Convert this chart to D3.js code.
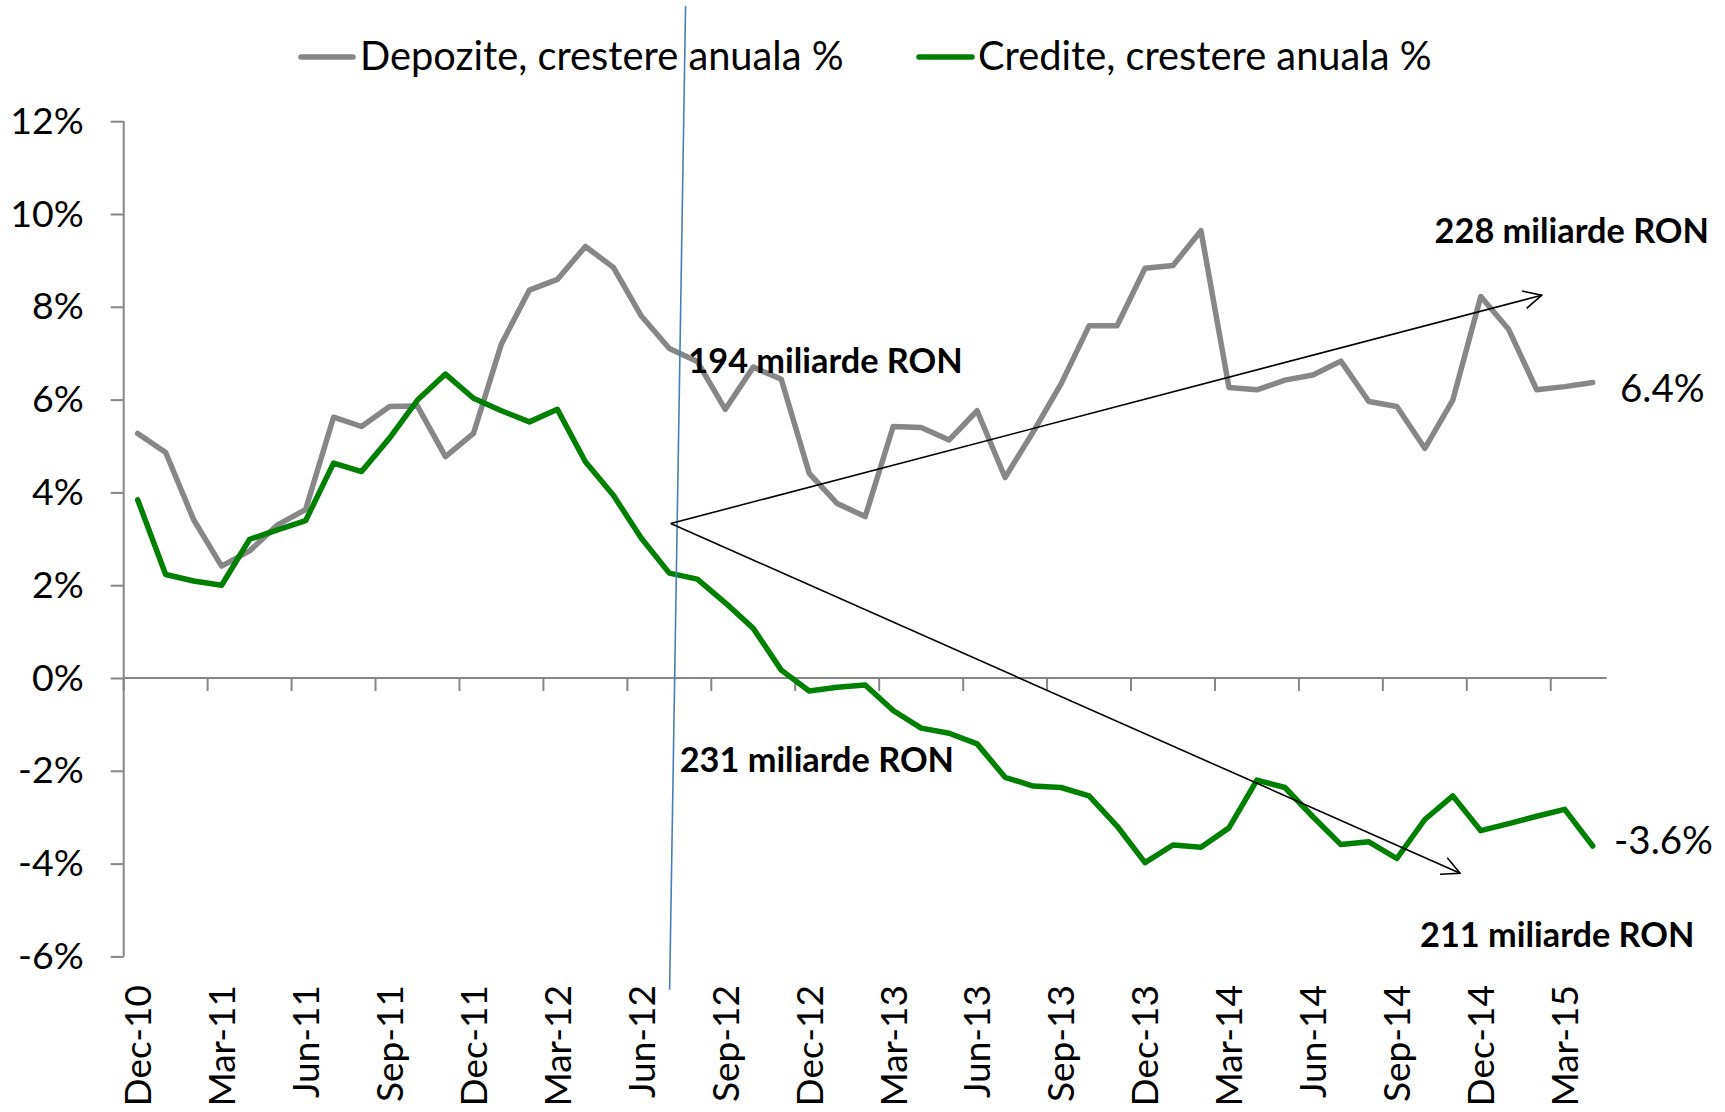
<!DOCTYPE html>
<html>
<head>
<meta charset="utf-8">
<script src="https://cdn.jsdelivr.net/npm/d3@7"></script>
<style>
  html, body { margin: 0; padding: 0; background: #fff; }
  svg { display: block; font-family: Lato, "Open Sans", sans-serif; }
</style>
</head>
<body>
<svg id="chart" width="1725" height="1112"></svg>
<script>
// ---- data ----
const months = [
  "Dec-10","Jan-11","Feb-11","Mar-11","Apr-11","May-11","Jun-11","Jul-11","Aug-11","Sep-11","Oct-11","Nov-11",
  "Dec-11","Jan-12","Feb-12","Mar-12","Apr-12","May-12","Jun-12","Jul-12","Aug-12","Sep-12","Oct-12","Nov-12",
  "Dec-12","Jan-13","Feb-13","Mar-13","Apr-13","May-13","Jun-13","Jul-13","Aug-13","Sep-13","Oct-13","Nov-13",
  "Dec-13","Jan-14","Feb-14","Mar-14","Apr-14","May-14","Jun-14","Jul-14","Aug-14","Sep-14","Oct-14","Nov-14",
  "Dec-14","Jan-15","Feb-15","Mar-15","Apr-15"
];
const tickLabels = ["Dec-10","Mar-11","Jun-11","Sep-11","Dec-11","Mar-12","Jun-12","Sep-12","Dec-12",
  "Mar-13","Jun-13","Sep-13","Dec-13","Mar-14","Jun-14","Sep-14","Dec-14","Mar-15"];
const depozite = [5.27,4.86,3.41,2.41,2.74,3.30,3.63,5.62,5.42,5.85,5.86,4.77,
  5.27,7.20,8.36,8.59,9.30,8.85,7.80,7.10,6.82,5.79,6.70,6.44,
  4.41,3.76,3.48,5.42,5.40,5.13,5.76,4.32,5.30,6.34,7.59,7.59,
  8.83,8.89,9.64,6.26,6.21,6.42,6.53,6.83,5.96,5.85,4.95,5.99,
  8.22,7.51,6.21,6.28,6.37];
const credite = [3.84,2.23,2.09,2.00,2.99,3.19,3.39,4.63,4.45,5.17,5.99,6.55,
  6.03,5.76,5.52,5.79,4.66,3.94,3.01,2.26,2.13,1.62,1.07,0.17,
  -0.28,-0.20,-0.15,-0.70,-1.08,-1.19,-1.42,-2.14,-2.33,-2.36,-2.54,-3.19,
  -3.98,-3.60,-3.65,-3.23,-2.20,-2.36,-2.99,-3.59,-3.53,-3.89,-3.05,-2.54,
  -3.29,-3.14,-2.98,-2.83,-3.62];
const yTicks = [-6,-4,-2,0,2,4,6,8,10,12];
const seriesNames = ["Depozite, crestere anuala %", "Credite, crestere anuala %"];
const endLabels = ["6.4%", "-3.6%"];
// annotation anchors, in data space (month index, %)
const arrowFrom = [19.05, 3.33];
const arrowUpTo = [50.18, 8.25];
const arrowDownTo = [47.26, -4.21];
const blueLine = [[19.58, 14.48], [19.01, -6.72]];
const notes = [
  {text: "194 miliarde RON", at: [19.68, 6.57]},
  {text: "231 miliarde RON", at: [19.37, -2.03]},
  {text: "228 miliarde RON", at: [46.35, 9.37]},
  {text: "211 miliarde RON", at: [45.83, -5.80]}
];

// ---- layout ----
const svg = d3.select("#chart");
const L = 123.7, R = 1606.7, T = 121.2, B = 956.4;
const x = d3.scaleBand().domain(months).range([L, R]).padding(0);
const bw = x.bandwidth();
const xc = m => x(m) + bw / 2;
const xi = i => L + (i + 0.5) * bw;
const y = d3.scaleLinear().domain([-6, 12]).range([B, T]);

const axisColor = "#868686";
const grayC = "#878787", greenC = "#008000";

// y axis
const yAxis = svg.append("g").attr("transform", `translate(${L},0)`)
  .call(d3.axisLeft(y).tickValues(yTicks).tickSize(13).tickPadding(27)
    .tickFormat(d => d + "%"));
yAxis.select(".domain").attr("stroke", axisColor).attr("stroke-width", 2)
  .attr("d", `M0,${T}V${B}`);
yAxis.selectAll(".tick line").attr("stroke", axisColor).attr("stroke-width", 2);
yAxis.selectAll(".tick text").attr("font-family", "Lato").attr("font-size", 37.5).attr("fill", "#000");

// x axis at 0
const boundaries = d3.range(0, months.length, 3).map(i => x(months[i]));
const xg = svg.append("g");
xg.append("line").attr("x1", L).attr("x2", R).attr("y1", y(0)).attr("y2", y(0))
  .attr("stroke", axisColor).attr("stroke-width", 2);
xg.selectAll("line.tk").data(boundaries).join("line").attr("class", "tk")
  .attr("x1", d => d).attr("x2", d => d).attr("y1", y(0)).attr("y2", y(0) + 13)
  .attr("stroke", axisColor).attr("stroke-width", 2);
xg.selectAll("text").data(tickLabels).join("text")
  .attr("transform", d => `translate(${xc(d)},985) rotate(-90)`)
  .attr("text-anchor", "end").attr("dy", "0.36em")
  .attr("font-size", 37).attr("fill", "#000").text(d => d);

// lines
const line = d3.line().x((d, i) => xc(months[i])).y(d => y(d));
svg.append("path").datum(depozite).attr("d", line).attr("fill", "none")
  .attr("stroke", grayC).attr("stroke-width", 5.5).attr("stroke-linejoin", "round").attr("stroke-linecap", "round");
svg.append("path").datum(credite).attr("d", line).attr("fill", "none")
  .attr("stroke", greenC).attr("stroke-width", 5.5).attr("stroke-linejoin", "round").attr("stroke-linecap", "round");

// blue vertical line
svg.append("line")
  .attr("x1", xi(blueLine[0][0])).attr("y1", y(blueLine[0][1]))
  .attr("x2", xi(blueLine[1][0])).attr("y2", y(blueLine[1][1]))
  .attr("stroke", "#4A7EBB").attr("stroke-width", 1.6);

// arrows
svg.append("defs").append("marker").attr("id", "arr")
  .attr("viewBox", "0 0 20 20").attr("refX", 19).attr("refY", 10)
  .attr("markerWidth", 20).attr("markerHeight", 20).attr("markerUnits", "userSpaceOnUse")
  .attr("orient", "auto")
  .append("path").attr("d", "M1,1 L19,10 L1,19").attr("fill", "none")
  .attr("stroke", "#000").attr("stroke-width", 1.6);
[arrowUpTo, arrowDownTo].forEach(t => {
  svg.append("line")
    .attr("x1", xi(arrowFrom[0])).attr("y1", y(arrowFrom[1]))
    .attr("x2", xi(t[0])).attr("y2", y(t[1]))
    .attr("stroke", "#000").attr("stroke-width", 1.6).attr("marker-end", "url(#arr)");
});

// notes
svg.selectAll("text.note").data(notes).join("text").attr("class", "note")
  .attr("x", d => xi(d.at[0])).attr("y", d => y(d.at[1]))
  .attr("font-size", 34.3).attr("font-weight", "bold").attr("fill", "#000").text(d => d.text);

// end labels
svg.append("text").attr("x", 1620).attr("y", y(depozite[depozite.length - 1]) + 20)
  .attr("font-size", 38.5).attr("fill", "#000").text(endLabels[0]);
svg.append("text").attr("x", 1614).attr("y", y(credite[credite.length - 1]) + 8)
  .attr("font-size", 38.5).attr("fill", "#000").text(endLabels[1]);

// legend
const legend = [
  {name: seriesNames[0], color: grayC, x0: 301, x1: 353, tx: 360},
  {name: seriesNames[1], color: greenC, x0: 919, x1: 972, tx: 978}
];
legend.forEach(l => {
  svg.append("line").attr("x1", l.x0).attr("x2", l.x1).attr("y1", 57).attr("y2", 57)
    .attr("stroke", l.color).attr("stroke-width", 5.5).attr("stroke-linecap", "round");
  svg.append("text").attr("x", l.tx).attr("y", 70).attr("font-size", 39.8).attr("fill", "#000").text(l.name);
});
</script>
</body>
</html>
